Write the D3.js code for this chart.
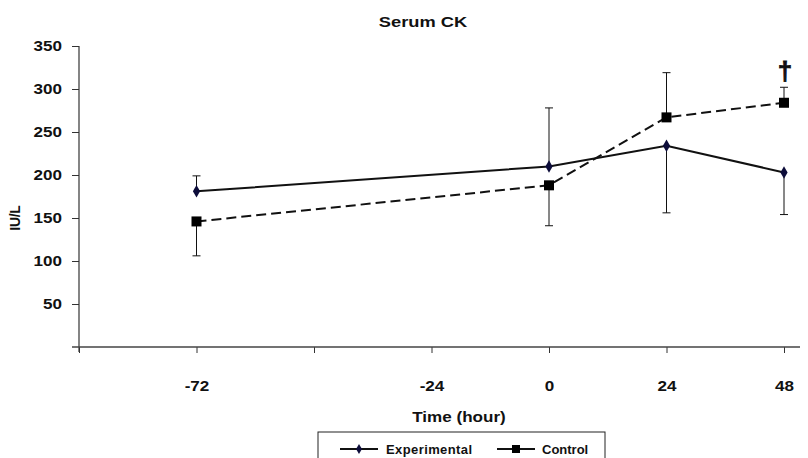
<!DOCTYPE html>
<html>
<head>
<meta charset="utf-8">
<script src="https://cdn.jsdelivr.net/npm/d3@7"></script>
<style>
body{margin:0;background:#fff;}
text{font-family:"Liberation Sans",Arial,sans-serif;font-weight:bold;fill:#111;}
</style>
</head>
<body>
<svg id="svg" width="808" height="458"></svg>
<script>
// category slots on the x axis (Excel style category axis)
var tickLabels=["","-72","","-24","0","24","48"];
var hours=["-72","0","24","48"];
var experimental=[181,210,234,203];
var experimentalErr=[18,68,78,49];
var control=[146,188,267,284];
var controlErr=[40,47,52,18];
var yTicks=[50,100,150,200,250,300,350];

var svg=d3.select("#svg");
var sx=1.22; // the original lettering is a bit stretched sideways

var x=d3.scalePoint().domain(d3.range(tickLabels.length)).range([79,784]);
var y=d3.scaleLinear().domain([0,350]).range([347,46]);
var xi=h=>x(tickLabels.indexOf(h));

function wideText(px,py,size,str){
    return svg.append("text").attr("transform","translate("+px+","+py+") scale("+sx+",1)")
        .attr("text-anchor","middle").style("font-size",size+"px").text(str);
}

// title
wideText(423,27,15,"Serum CK");

// y axis
var yAxis=svg.append("g").attr("transform","translate(79,0)")
    .call(d3.axisLeft(y).tickValues(yTicks).tickSize(7).tickSizeOuter(0))
yAxis.select(".domain").remove();
yAxis.selectAll("line").attr("stroke","#333");
yAxis.selectAll("text").style("font-size","14px").attr("font-family",null)
    .attr("x",-17/sx).attr("transform","scale("+sx+",1)");
svg.append("line").attr("x1",79).attr("x2",79).attr("y1",y(350)).attr("y2",352)
    .attr("stroke","#333").attr("stroke-width",1.2);

// x axis
var xAxis=svg.append("g").attr("transform","translate(0,"+y(0)+")")
    .call(d3.axisBottom(x).tickSize(6).tickSizeOuter(0).tickPadding(28).tickFormat(i=>tickLabels[i]));
xAxis.select(".domain").remove();
xAxis.selectAll("line").attr("stroke","#333");
xAxis.selectAll("text").style("font-size","14px").attr("font-family",null)
    .attr("transform","scale("+sx+",1)");
svg.append("line").attr("x1",72).attr("x2",800).attr("y1",y(0)).attr("y2",y(0))
    .attr("stroke","#444").attr("stroke-width",1.6);

// axis titles
svg.append("text").attr("transform","translate(20,218) rotate(-90)").attr("text-anchor","middle")
    .style("font-size","14px").style("letter-spacing","-0.3px").text("IU/L");
wideText(459,422,14,"Time (hour)");

// one-sided error bars: the upper series shows +SD, the lower one -SD
function errBars(vals,errs,other){
    hours.forEach((h,i)=>{
        var cx=xi(h);
        var dir=vals[i]>=other[i]?1:-1;
        var y0=y(vals[i]),y1=y(vals[i]+dir*errs[i]);
        svg.append("line").attr("x1",cx).attr("x2",cx).attr("y1",y0).attr("y2",y1).attr("stroke","#111").attr("stroke-width",1);
        svg.append("line").attr("x1",cx-4).attr("x2",cx+4).attr("y1",y1).attr("y2",y1).attr("stroke","#111").attr("stroke-width",1);
    });
}
errBars(experimental,experimentalErr,control);
errBars(control,controlErr,experimental);

var line=d3.line().x((d,i)=>xi(hours[i])).y(d=>y(d));

svg.append("path").datum(experimental).attr("d",line)
    .attr("fill","none").attr("stroke","#111").attr("stroke-width",2);
svg.append("path").datum(control).attr("d",line)
    .attr("fill","none").attr("stroke","#111").attr("stroke-width",2).attr("stroke-dasharray","10,5");

var diamond=d3.symbol().type(d3.symbolDiamond).size(45);
svg.selectAll(".dia").data(experimental).enter().append("path")
    .attr("transform",(d,i)=>"translate("+xi(hours[i])+","+y(d)+")")
    .attr("d",diamond).attr("fill","#0d0d3a");
svg.selectAll(".sq").data(control).enter().append("rect")
    .attr("x",(d,i)=>xi(hours[i])-5).attr("y",d=>y(d)-5)
    .attr("width",10).attr("height",10).attr("fill","#000");

// significance dagger at 48 h
svg.append("text").attr("x",xi("48")+1).attr("y",80).attr("text-anchor","middle")
    .style("font-size","26px").style("stroke","#111").style("stroke-width","0.8px").text("\u2020");

// legend
var lg=svg.append("g");
lg.append("rect").attr("x",318).attr("y",432).attr("width",287).attr("height",30)
    .attr("fill","#fff").attr("stroke","#222").attr("stroke-width",1);
lg.append("line").attr("x1",340).attr("x2",378).attr("y1",449).attr("y2",449).attr("stroke","#111").attr("stroke-width",2);
lg.append("path").attr("transform","translate(359,449)").attr("d",d3.symbol().type(d3.symbolDiamond).size(30)).attr("fill","#0d0d3a");
lg.append("text").attr("x",386).attr("y",454).style("font-size","13px").style("letter-spacing","0.4px").text("Experimental");
lg.append("line").attr("x1",497).attr("x2",535).attr("y1",449).attr("y2",449).attr("stroke","#111").attr("stroke-width",2);
lg.append("rect").attr("x",512).attr("y",445).attr("width",8).attr("height",8).attr("fill","#000");
lg.append("text").attr("x",542).attr("y",454).style("font-size","13px").text("Control");
</script>
</body>
</html>
